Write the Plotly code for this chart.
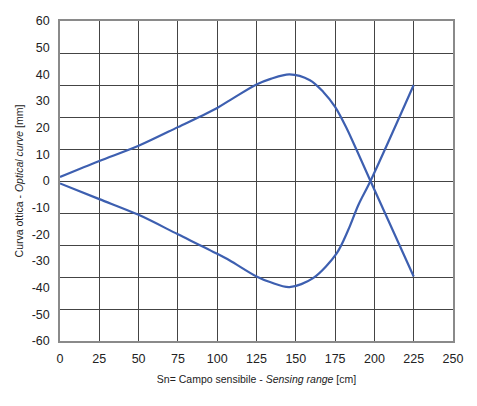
import plotly.graph_objects as go

# Upper branch of the optical curve
x_upper = [0, 25, 50, 75, 100, 110, 125, 134, 146, 159, 167.5, 175, 182.4, 188.7, 197.5, 225]
y_upper = [1.5, 7.5, 13.2, 20.2, 27.4, 31.0, 36.2, 38.3, 40.0, 37.8, 33.4, 27.8, 19.7, 11.6, 0.0, -35.8]

# Lower branch of the optical curve
x_lower = [0, 25, 50, 75, 100, 108, 125, 134, 146, 161, 176, 183.4, 189.8, 197.5, 225]
y_lower = [-0.9, -6.8, -12.7, -20.0, -27.3, -29.8, -35.8, -38.0, -39.8, -36.4, -27.1, -18.3, -9.0, 0.0, 36.0]

x_ticks = [0, 25, 50, 75, 100, 125, 150, 175, 200, 225, 250]
y_ticks = [-60, -50, -40, -30, -20, -10, 0, 10, 20, 30, 40, 50, 60]
y_tick_text = [str(v) for v in y_ticks]  # plain hyphen-minus like the original

LINE = "#3d5fb0"
GRID = "#444444"
FONT = "Liberation Sans, Arial, sans-serif"

fig = go.Figure()
fig.add_trace(go.Scatter(x=x_upper, y=y_upper, mode="lines", yaxis="y",
                         line=dict(color=LINE, width=2.2, shape="spline", smoothing=0.9),
                         showlegend=False, hoverinfo="skip"))
fig.add_trace(go.Scatter(x=x_lower, y=y_lower, mode="lines", yaxis="y2",
                         line=dict(color=LINE, width=2.2, shape="spline", smoothing=0.9),
                         showlegend=False, hoverinfo="skip"))

fig.update_layout(
    width=477, height=406,
    margin=dict(l=52, r=32, t=13, b=73),
    paper_bgcolor="white", plot_bgcolor="white",
    font=dict(family=FONT, size=12.5, color="#222222"),
    xaxis=dict(range=[0, 250], tickvals=x_ticks, showgrid=True, gridcolor=GRID, gridwidth=1,
               zeroline=False, showline=True, mirror=True, linecolor="#8a8a8a", linewidth=1.5,
               ticks="", ticklabelstandoff=5, automargin=False,
               title=dict(text="Sn= Campo sensibile - <i>Sensing range</i> [cm]",
                          font=dict(size=10.5), standoff=11)),
    yaxis=dict(range=[-60, 60], tickvals=y_ticks, ticktext=y_tick_text, showgrid=False,
               zeroline=False, showline=True, mirror=True, linecolor="#8a8a8a", linewidth=1.5,
               ticks="", ticklabelstandoff=6, automargin=False,
               title=dict(text="Curva ottica - <i>Optical curve</i> [mm]",
                          font=dict(size=10.5), standoff=6)),
    yaxis2=dict(range=[-60, 60], overlaying="y", side="left", tick0=-60, dtick=12,
                showgrid=True, gridcolor=GRID, gridwidth=1, showticklabels=False,
                zeroline=False, showline=False, ticks="", automargin=False),
)

fig.write_html("out.html")
